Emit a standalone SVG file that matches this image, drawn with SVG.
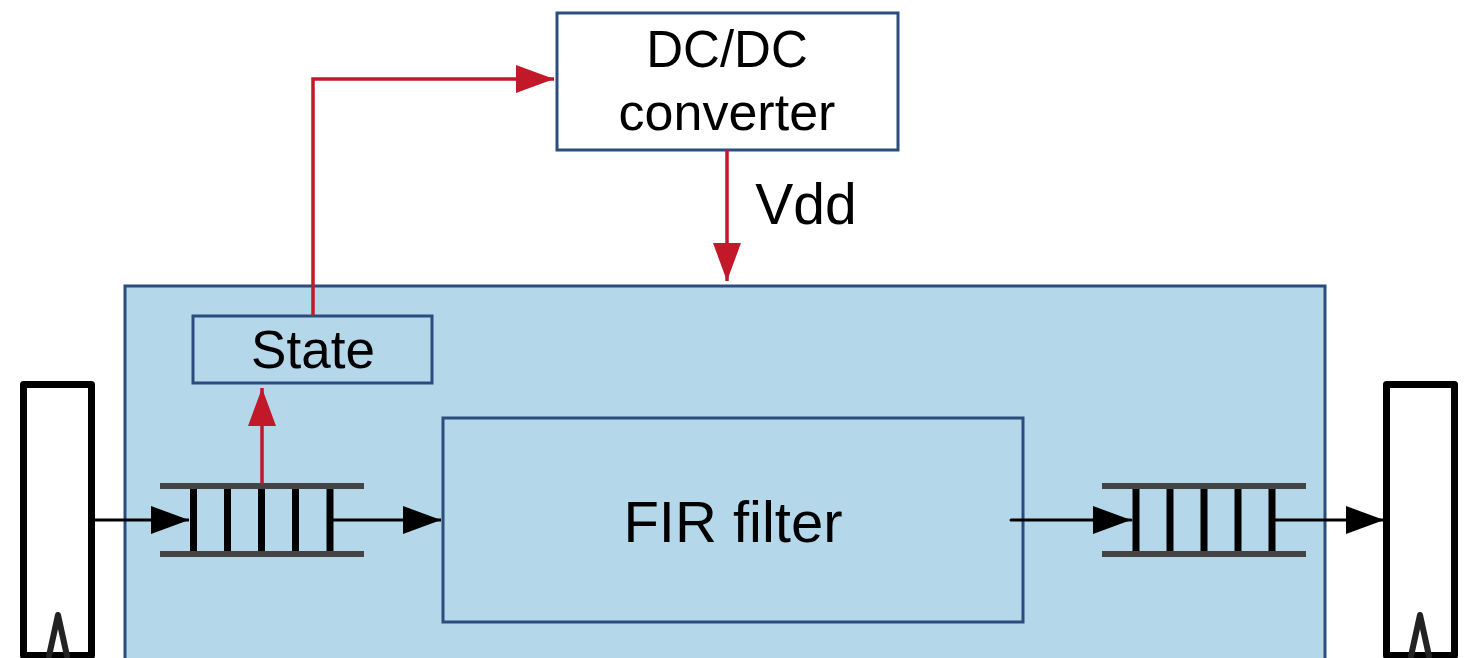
<svg xmlns="http://www.w3.org/2000/svg" width="1468" height="658" viewBox="0 0 1468 658">
<defs>
<style>
.box{fill:none;stroke:#2b4d7e;stroke-width:3}
.lbl{font-family:"Liberation Sans",Arial,sans-serif;fill:#000;text-anchor:middle}
.red{fill:none;stroke:#c1192a;stroke-width:3.5}
.blk{fill:none;stroke:#000;stroke-width:3}
.rail{stroke:#444;stroke-width:6}
.slot{stroke:#000;stroke-width:7}
.buf{fill:#fff;stroke:#000;stroke-width:7;stroke-linejoin:round}
.peak{fill:none;stroke:#222;stroke-width:6;stroke-linecap:round;stroke-linejoin:round}
</style>
<marker id="ar" viewBox="0 0 38 28" refX="38" refY="14" markerWidth="38" markerHeight="28" markerUnits="userSpaceOnUse" orient="auto"><path d="M0,0 L38,14 L0,28 Z" fill="#c1192a"/></marker>
<marker id="ab" viewBox="0 0 38 28" refX="38" refY="14" markerWidth="38" markerHeight="28" markerUnits="userSpaceOnUse" orient="auto"><path d="M0,0 L38,14 L0,28 Z" fill="#000"/></marker>
</defs>
<rect width="1468" height="658" fill="#fff"/>
<g id="main">
<rect x="125" y="286" width="1200" height="380" fill="#b4d8ea" stroke="#2b4d7e" stroke-width="3"/>
</g>
<g id="dcdc">
<rect class="box" x="557" y="13" width="341" height="137" fill="#fff"/>
<text class="lbl" x="727" y="67" font-size="51">DC/DC</text>
<text class="lbl" x="727" y="130" font-size="52">converter</text>
</g>
<g id="state">
<rect class="box" x="193" y="316" width="239" height="67"/>
<text class="lbl" x="313" y="368" font-size="53">State</text>
</g>
<g id="fir">
<rect class="box" x="443" y="418" width="580" height="204"/>
<text class="lbl" x="733" y="542" font-size="58">FIR filter</text>
</g>
<g id="inbuf">
<rect class="buf" x="23.5" y="384.5" width="68" height="271"/>
<path class="peak" d="M49,656 L58,615 L67,656"/>
</g>
<g id="outbuf">
<rect class="buf" x="1386.5" y="384.5" width="68" height="271"/>
<path class="peak" d="M1411,656 L1420,615 L1429,656"/>
</g>
<g id="queue-in">
<line class="rail" x1="160" y1="486" x2="364" y2="486"/>
<line class="rail" x1="160" y1="554" x2="364" y2="554"/>
<line class="slot" x1="193.5" y1="489" x2="193.5" y2="551"/>
<line class="slot" x1="227.5" y1="489" x2="227.5" y2="551"/>
<line class="slot" x1="261.5" y1="489" x2="261.5" y2="551"/>
<line class="slot" x1="295.5" y1="489" x2="295.5" y2="551"/>
<line class="slot" x1="330" y1="489" x2="330" y2="551"/>
</g>
<g id="queue-out">
<line class="rail" x1="1102" y1="486" x2="1306" y2="486"/>
<line class="rail" x1="1102" y1="554" x2="1306" y2="554"/>
<line class="slot" x1="1136" y1="489" x2="1136" y2="551"/>
<line class="slot" x1="1170" y1="489" x2="1170" y2="551"/>
<line class="slot" x1="1204" y1="489" x2="1204" y2="551"/>
<line class="slot" x1="1238" y1="489" x2="1238" y2="551"/>
<line class="slot" x1="1272" y1="489" x2="1272" y2="551"/>
</g>
<g id="connectors">
<path class="red" d="M313,316 L313,79 L554,79" marker-end="url(#ar)"/>
<path class="red" d="M727,150 L727,281" marker-end="url(#ar)"/>
<path class="red" d="M262,484 L262,388" marker-end="url(#ar)"/>
<path class="blk" d="M95,520 L189,520" marker-end="url(#ab)"/>
<path class="blk" d="M333,520 L441,520" marker-end="url(#ab)"/>
<path class="blk" d="M1011,520 L1131,520" stroke-linecap="round" marker-end="url(#ab)"/>
<path class="blk" d="M1275,520 L1384,520" marker-end="url(#ab)"/>
<text class="lbl" x="806" y="224" font-size="57">Vdd</text>
</g>
</svg>
